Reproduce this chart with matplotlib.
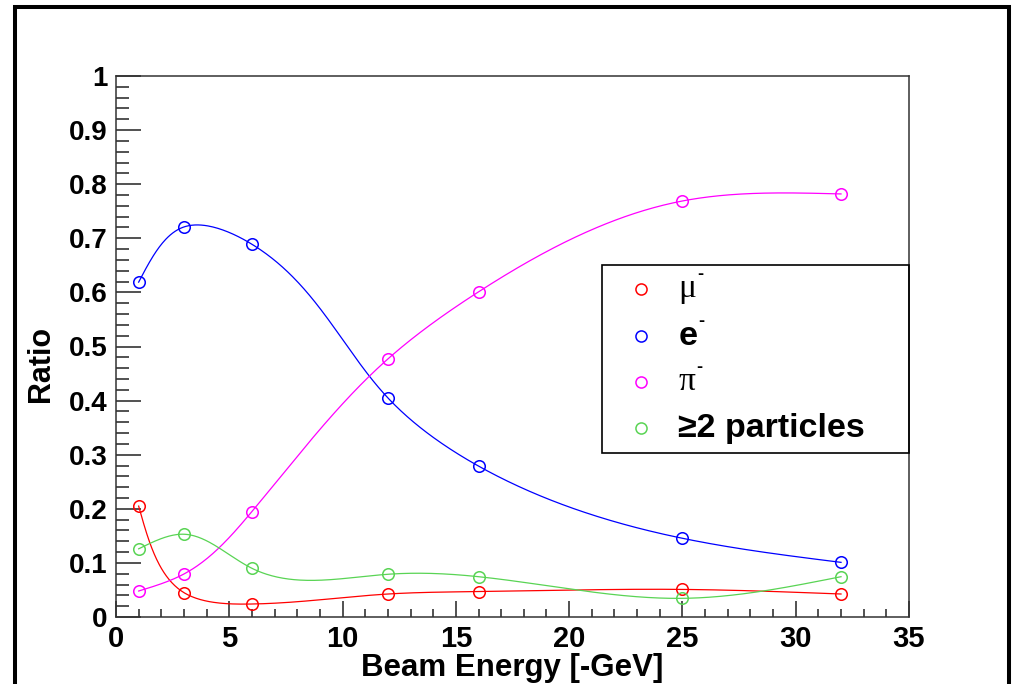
"""
Particle ID ratios vs beam energy, ROOT-style plot.
"""

import numpy as np
import matplotlib
matplotlib.use("Agg")
import matplotlib.pyplot as plt
from matplotlib.lines import Line2D
from matplotlib.patches import Rectangle
from matplotlib.ticker import MultipleLocator

plt.rcParams["font.family"] = ["Liberation Sans", "DejaVu Sans"]

# data
energy = [1, 3, 6, 12, 16, 25, 32]
ratio_mu = [0.205, 0.045, 0.024, 0.0425, 0.047, 0.051, 0.0425]
ratio_e = [0.619, 0.721, 0.689, 0.405, 0.279, 0.1455, 0.101]
ratio_pi = [0.048, 0.0795, 0.195, 0.477, 0.601, 0.769, 0.782]
ratio_multi = [0.126, 0.153, 0.090, 0.079, 0.0745, 0.0345, 0.0745]

labels = ["\u03bc", "e", "\u03c0", "\u22652 particles"]
colors = ["#ff0000", "#0000ff", "#ff00ff", "#59d454"]

W, H = 1013, 684


def spline_coeffs(t, y):
    n = len(t)
    h = np.diff(t)
    A = np.zeros((n, n))
    r = np.zeros(n)
    A[0, 0] = A[-1, -1] = 1.0
    for i in range(1, n - 1):
        A[i, i - 1] = h[i - 1]
        A[i, i] = 2 * (h[i - 1] + h[i])
        A[i, i + 1] = h[i]
        r[i] = 3 * ((y[i + 1] - y[i]) / h[i] - (y[i] - y[i - 1]) / h[i - 1])
    c = np.linalg.solve(A, r)
    b = (y[1:] - y[:-1]) / h - h * (2 * c[:-1] + c[1:]) / 3
    d = (c[1:] - c[:-1]) / (3 * h)
    return b, c, d


def eval_spline(t, y, coef, ts):
    b, c, d = coef
    idx = np.clip(np.searchsorted(t, ts) - 1, 0, len(t) - 2)
    dt = ts - t[idx]
    return y[idx] + b[idx] * dt + c[idx] * dt ** 2 + d[idx] * dt ** 3


def smooth_curve(x, y, sx=793 / 35, sy=541.0, npts=500):
    # parametric spline in screen units, close to ROOT's "C" option
    x = np.asarray(x, float)
    y = np.asarray(y, float)
    px, py = x * sx, y * sy
    t = np.concatenate([[0], np.cumsum(np.hypot(np.diff(px), np.diff(py)))])
    ts = np.linspace(0, t[-1], npts)
    cx = eval_spline(t, px, spline_coeffs(t, px), ts)
    cy = eval_spline(t, py, spline_coeffs(t, py), ts)
    return cx / sx, cy / sy


fig = plt.figure(figsize=(W / 100, H / 100), dpi=100, facecolor="white")
ax = fig.add_axes([116 / W, 1 - 617 / H, 793 / W, 541 / H])

for ys, col in zip([ratio_mu, ratio_e, ratio_pi, ratio_multi], colors):
    cx, cy = smooth_curve(energy, ys)
    ax.plot(cx, cy, color=col, lw=0.9)
    ax.plot(energy, ys, "o", mfc="none", mec=col, ms=8.3, mew=1.1, ls="none")

ax.xaxis.set_major_locator(MultipleLocator(5))
ax.xaxis.set_minor_locator(MultipleLocator(1))
ax.yaxis.set_minor_locator(MultipleLocator(0.02))
yt = np.round(np.arange(0, 1.01, 0.1), 1)
ax.set_yticks(yt)
ax.set_yticklabels(["0"] + [f"{v:.1f}" for v in yt[1:-1]] + ["1"])
ax.set_xlim(0, 35)
ax.set_ylim(0, 1)

ax.tick_params(axis="y", which="major", direction="in", length=18, width=1.1,
               colors="#222222", labelcolor="black", pad=6)
ax.tick_params(axis="y", which="minor", direction="in", length=9.5, width=1.1, colors="#222222")
ax.tick_params(axis="x", which="major", direction="in", length=11.5, width=1.1,
               colors="#222222", labelcolor="black", pad=6)
ax.tick_params(axis="x", which="minor", direction="in", length=6, width=1.1, colors="#222222")
for lab in ax.get_yticklabels():
    lab.set_fontsize(20)
    lab.set_fontweight("bold")
for lab in ax.get_xticklabels():
    lab.set_fontsize(21)
    lab.set_fontweight("bold")
for s in ax.spines.values():
    s.set_linewidth(1.1)
    s.set_color("#333333")

ax.set_xlabel("Beam Energy [-GeV]", fontsize=22.5, fontweight="bold")
ax.xaxis.set_label_coords(0.5, -0.0665)
ax.xaxis.label.set_va("top")
ax.set_ylabel("Ratio", fontsize=22, fontweight="bold")
ax.yaxis.set_label_coords(-0.076, 0.468)

# legend drawn by hand to get the ROOT look
ax.add_patch(Rectangle((0.613, 0.303), 0.387, 0.348, transform=ax.transAxes,
                       fill=False, ec="black", lw=1.2, zorder=5, clip_on=False))
entry_y = [0.606, 0.519, 0.434, 0.349]
for lab, col, ey in zip(labels, colors, entry_y):
    ax.plot([0.662], [ey], "o", mfc="none", mec=col, ms=8, mew=1.1,
            transform=ax.transAxes, clip_on=False, zorder=6)
    if lab in ("\u03bc", "\u03c0"):
        t = ax.text(0.709, ey, lab, transform=ax.transAxes, fontsize=24,
                    family=["Liberation Serif", "DejaVu Serif"], va="center", ha="left")
    else:
        t = ax.text(0.709, ey, lab, transform=ax.transAxes, fontsize=24.5,
                    fontweight="bold", va="center", ha="left")
    if lab != "\u22652 particles":
        fig.canvas.draw()
        bb = t.get_window_extent().transformed(ax.transAxes.inverted())
        ax.text(bb.x1 + 0.001, ey + 0.028, "-", transform=ax.transAxes, fontsize=13,
                fontweight="bold", va="center", ha="left")

# thick outer canvas frame
frame = Line2D([15 / W, 15 / W, 1009 / W, 1009 / W],
               [-0.05, 1 - 7 / H, 1 - 7 / H, -0.05],
               transform=fig.transFigure, color="black", lw=2.9,
               solid_joinstyle="miter")
fig.add_artist(frame)

fig.savefig("out.png", dpi=100, facecolor="white")
